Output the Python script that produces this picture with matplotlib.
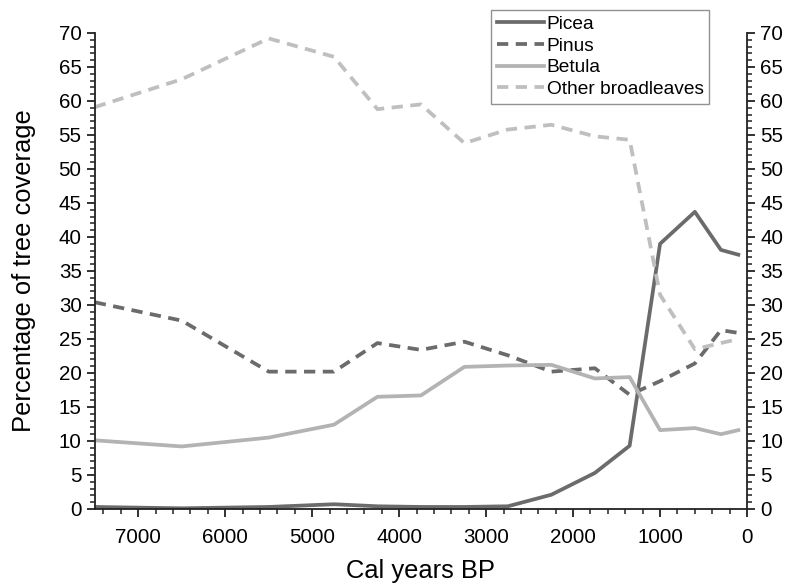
import matplotlib
matplotlib.use("Agg")
import matplotlib.pyplot as plt
from matplotlib.ticker import MultipleLocator

years = [7500, 6500, 5500, 4750, 4250, 3750, 3250, 2750, 2250, 1750, 1350, 1000, 600, 300, 100]
picea = [0.3, 0.1, 0.3, 0.7, 0.4, 0.3, 0.3, 0.4, 2.1, 5.3, 9.3, 39.0, 43.7, 38.1, 37.4]
pinus = [30.4, 27.7, 20.2, 20.2, 24.4, 23.4, 24.6, 22.6, 20.2, 20.7, 16.8, 18.8, 21.4, 26.3, 25.9]
betula = [10.1, 9.2, 10.5, 12.4, 16.5, 16.7, 20.9, 21.1, 21.2, 19.2, 19.4, 11.6, 11.9, 11.0, 11.6]
other = [59.1, 63.2, 69.2, 66.5, 58.8, 59.5, 53.8, 55.8, 56.5, 54.8, 54.3, 31.5, 23.5, 24.4, 25.0]

series_names = ["Picea", "Pinus", "Betula", "Other broadleaves"]

plt.rcParams['font.family'] = ['Liberation Sans', 'DejaVu Sans']

fig = plt.figure(figsize=(7.9, 5.86), dpi=100)
ax = fig.add_axes([0.120, 0.1314, 0.8256, 0.8123])

dark = '#6b6b6b'
light1 = '#b3b3b3'
light2 = '#bfbfbf'
lw = 2.7
ax.plot(years, picea, color=dark, lw=lw, label=series_names[0])
ax.plot(years, pinus, color=dark, lw=lw, ls=(0, (3, 2)), label=series_names[1])
ax.plot(years, betula, color=light1, lw=lw, label=series_names[2])
ax.plot(years, other, color=light2, lw=lw, ls=(0, (3, 2)), label=series_names[3])

ax.set_xlim(7500, 0)
ax.set_ylim(0, 70)
ax.xaxis.set_major_locator(MultipleLocator(1000))
ax.xaxis.set_minor_locator(MultipleLocator(200))
ax.yaxis.set_major_locator(MultipleLocator(5))
ax.yaxis.set_minor_locator(MultipleLocator(1))

ax.spines['top'].set_visible(False)
for s in ['left', 'right', 'bottom']:
    ax.spines[s].set_linewidth(1.3)
    ax.spines[s].set_color('#222222')

ax.tick_params(axis='both', which='major', direction='out', length=6, width=1.3,
               labelsize=14.8, color='#222222')
ax.tick_params(axis='both', which='minor', direction='out', length=3.5, width=1.1,
               color='#222222')
ax.tick_params(axis='y', which='both', left=True, right=True, labelleft=True, labelright=True)
ax.tick_params(axis='x', which='major', pad=8)

ax.set_xlabel('Cal years BP', fontsize=18.4, labelpad=8)
ax.set_ylabel('Percentage of tree coverage', fontsize=18.4, labelpad=16)

leg = ax.legend(loc='upper left', bbox_to_anchor=(491/790, 1 - 10/586),
                bbox_transform=fig.transFigure, fontsize=13.8, frameon=True,
                fancybox=False, handlelength=2.45, handletextpad=0.15,
                labelspacing=0.22, borderpad=0.3, borderaxespad=0)
leg.get_frame().set_edgecolor('#777777')
leg.get_frame().set_linewidth(1.0)

fig.savefig('out.png', dpi=100)
